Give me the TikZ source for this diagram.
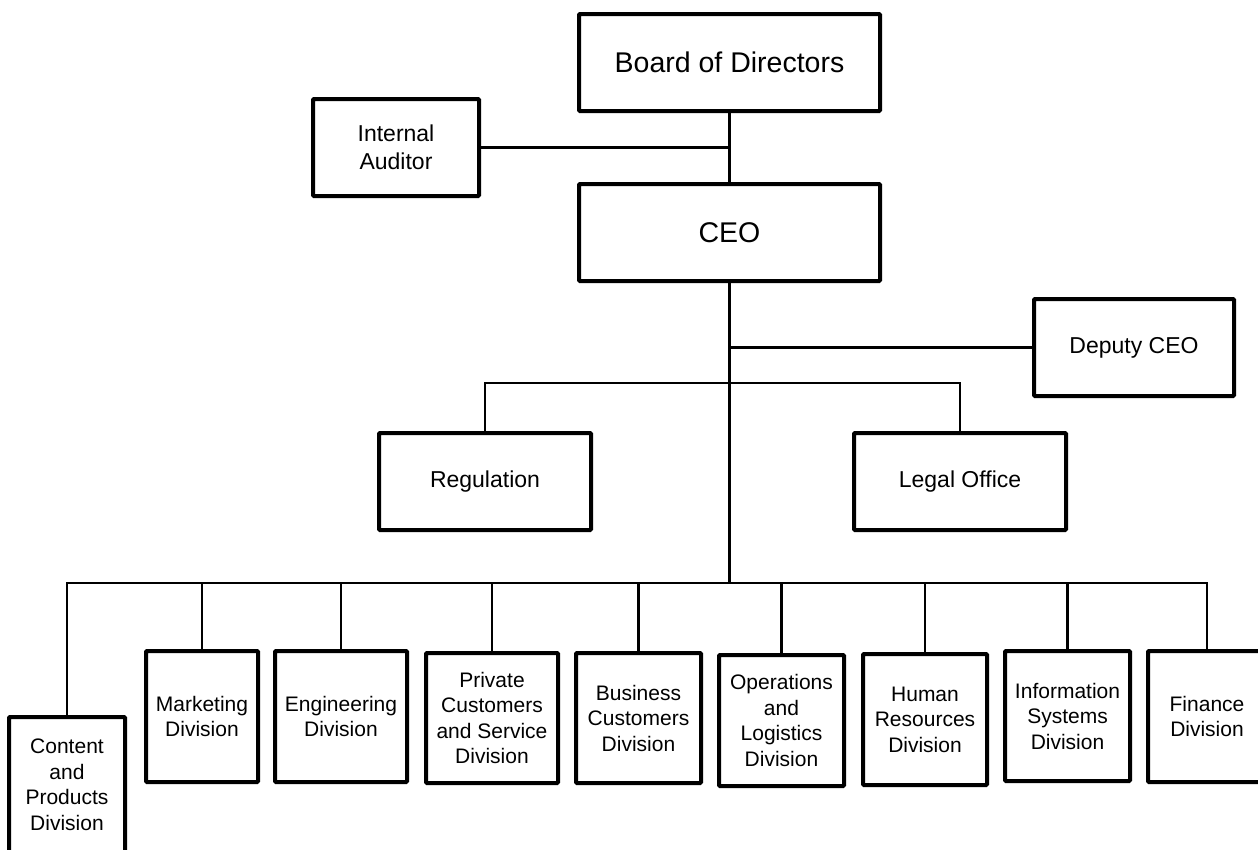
\documentclass[tikz,border=0pt]{standalone}
\usepackage{fontspec}
\setmainfont{Liberation Sans}
\begin{document}
\begin{tikzpicture}[x=1pt,y=-1pt,
  box/.style={draw=black,line width=4pt,fill=white,align=center,inner sep=2pt,
    rounded corners=1pt,anchor=center},
  bigtext/.style={font=\fontsize{28.5}{33}\selectfont},
  midtext/.style={font=\fontsize{23}{28}\selectfont},
  divtext/.style={font=\fontsize{21}{25.5}\selectfont},
  link/.style={draw=black,line width=2.5pt}]
\useasboundingbox (0,0) rectangle (1258,849);

% top of the hierarchy
\node[box,bigtext,minimum width=301pt,minimum height=97pt] (board) at (729.5,62.5) {Board of Directors};
\node[box,bigtext,minimum width=301pt,minimum height=97pt] (ceo) at (729.5,232.5) {CEO};
\node[box,midtext,minimum width=166pt,minimum height=97pt] (audit) at (396,147.5) {Internal\\Auditor};
\node[box,midtext,minimum width=200pt,minimum height=97pt] (deputy) at (1134,347.5) {Deputy CEO};
\node[box,midtext,minimum width=212pt,minimum height=97pt] (reg) at (485,481.5) {Regulation};
\node[box,midtext,minimum width=212pt,minimum height=97pt] (legal) at (960,481.5) {Legal Office};

% divisions
\node[box,divtext,minimum width=116pt,minimum height=136pt] (content) at (67,785) {Content\\and\\Products\\Division};
\node[box,divtext,minimum width=112pt,minimum height=131pt] (marketing) at (202,716.5) {Marketing\\Division};
\node[box,divtext,minimum width=132pt,minimum height=131pt] (engineering) at (341,716.5) {Engineering\\Division};
\node[box,divtext,minimum width=132pt,minimum height=130pt] (private) at (492,718) {Private\\Customers\\and Service\\Division};
\node[box,divtext,minimum width=125pt,minimum height=130pt] (business) at (638.5,718) {Business\\Customers\\Division};
\node[box,divtext,minimum width=125pt,minimum height=131pt] (operations) at (781.5,720.5) {Operations\\and\\Logistics\\Division};
\node[box,divtext,minimum width=124pt,minimum height=131pt] (hr) at (925,719.5) {Human\\Resources\\Division};
\node[box,divtext,minimum width=125pt,minimum height=130pt] (info) at (1067.5,716) {Information\\Systems\\Division};
\node[box,divtext,minimum width=118pt,minimum height=131pt] (finance) at (1207,716.5) {Finance\\Division};

% junction points of the connector lines
\coordinate (staff) at (729.5,383);
\coordinate (bus) at (729.5,583);

% connectors
\draw[link] (board.south) -- (ceo.north);
\draw[link] (audit.east) -- (audit.east -| board.south);
\draw[link] (ceo.south) -- (bus);
\draw[link] (deputy.west) -- (deputy.west -| ceo.south);
\draw[link] (reg.north) |- (staff) -| (legal.north);
\foreach \d in {content,marketing,engineering,private,business,operations,hr,info,finance}
  \draw[link] (\d.north) |- (bus);
\end{tikzpicture}
\end{document}
